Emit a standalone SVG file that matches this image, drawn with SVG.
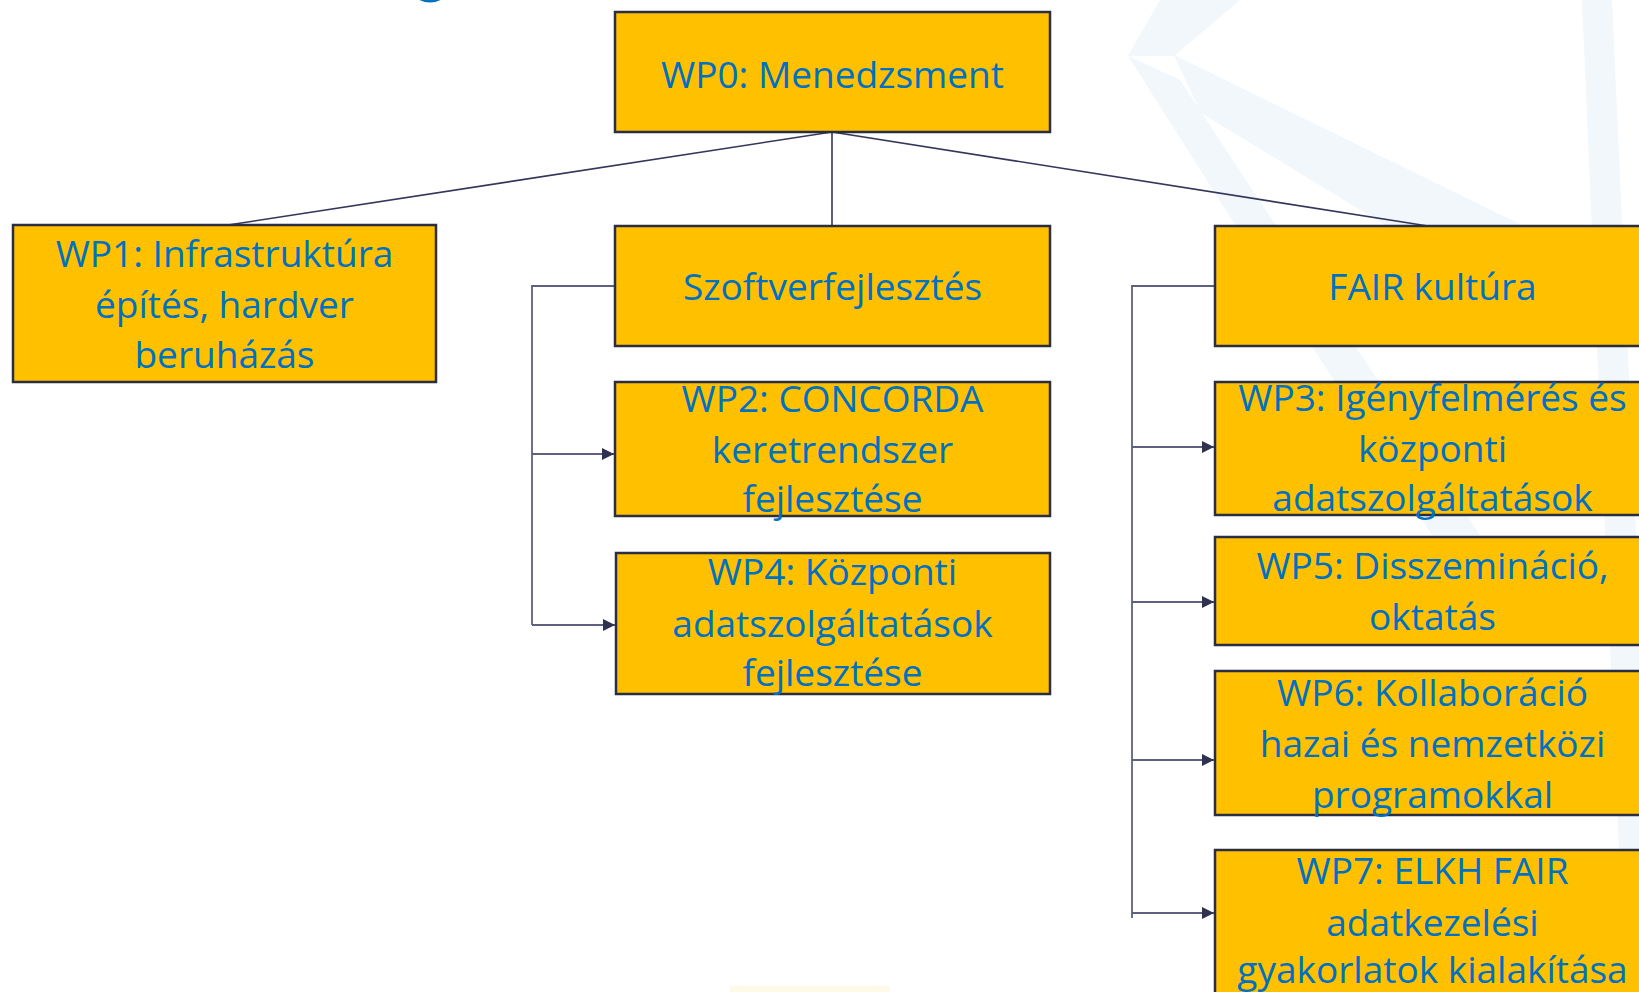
<svg xmlns="http://www.w3.org/2000/svg" width="1639" height="992" viewBox="0 0 1639 992">
<defs>
<style>
.box{fill:#FFC000;stroke:#2B2D42;stroke-width:2.5}
.t{font-family:"Open Sans","Noto Sans",sans-serif;font-size:37px;fill:#0070C0;text-anchor:middle}
.ln{fill:none;stroke:#34365A;stroke-width:1.6}
.br{fill:none;stroke:#5E6080;stroke-width:1.8}
.wm{fill:#F1F7FB}
</style>
<marker id="ah" markerUnits="userSpaceOnUse" markerWidth="14" markerHeight="14" refX="12" refY="6" orient="auto">
<path d="M0,0 L12,6 L0,12 Z" fill="#2F3150"/>
</marker>
</defs>
<rect width="1639" height="992" fill="#FFFFFF"/>
<g id="background">
<polygon class="wm" points="1160,0 1240,0 1174,56 1128,56"/>
<polygon class="wm" points="1128,56 1180,80 1480,535 1432,535"/>
<polygon class="wm" points="1174,55 1579,253 1508,300 1201,113"/>
<polygon class="wm" points="1582,0 1612,0 1639,600 1639,992 1625,992"/>
<ellipse cx="430" cy="-6" rx="13" ry="7" fill="none" stroke="#0070C0" stroke-width="3"/>
<rect x="730" y="986" width="160" height="6" fill="#FFF6D0" opacity="0.5"/>
</g>
<g id="connectors">
<line class="ln" x1="832" y1="132" x2="228" y2="225"/>
<line class="ln" x1="832" y1="132" x2="832" y2="226"/>
<line class="ln" x1="832" y1="132" x2="1428" y2="226"/>
<polyline class="br" points="615,286 532,286 532,625"/>
<line class="br" x1="532" y1="454" x2="614" y2="454" marker-end="url(#ah)"/>
<line class="br" x1="532" y1="625" x2="615" y2="625" marker-end="url(#ah)"/>
<polyline class="br" points="1215,286 1132,286 1132,918"/>
<line class="br" x1="1132" y1="447" x2="1214" y2="447" marker-end="url(#ah)"/>
<line class="br" x1="1132" y1="602" x2="1214" y2="602" marker-end="url(#ah)"/>
<line class="br" x1="1132" y1="760" x2="1214" y2="760" marker-end="url(#ah)"/>
<line class="br" x1="1132" y1="913" x2="1214" y2="913" marker-end="url(#ah)"/>
</g>
<g id="wp0">
<rect class="box" x="615" y="12" width="435" height="120"/>
<text class="t" x="832.5" y="88">WP0: Menedzsment</text>
</g>
<g id="wp1">
<rect class="box" x="13" y="225" width="423" height="157"/>
<text class="t" x="224.5" y="267">WP1: Infrastruktúra</text>
<text class="t" x="224.5" y="318">építés, hardver</text>
<text class="t" x="224.5" y="368">beruházás</text>
</g>
<g id="szoftver">
<rect class="box" x="615" y="226" width="435" height="120"/>
<text class="t" x="832.5" y="300">Szoftverfejlesztés</text>
</g>
<g id="wp2">
<rect class="box" x="615" y="382" width="435" height="134"/>
<text class="t" x="832.5" y="412">WP2: CONCORDA</text>
<text class="t" x="832.5" y="463">keretrendszer</text>
<text class="t" x="832.5" y="512">fejlesztése</text>
</g>
<g id="wp4">
<rect class="box" x="616" y="553" width="434" height="141"/>
<text class="t" x="832.5" y="585">WP4: Központi</text>
<text class="t" x="832.5" y="637">adatszolgáltatások</text>
<text class="t" x="832.5" y="686">fejlesztése</text>
</g>
<g id="fair">
<rect class="box" x="1215" y="226" width="435" height="120"/>
<text class="t" x="1432.5" y="300">FAIR kultúra</text>
</g>
<g id="wp3">
<rect class="box" x="1215" y="382" width="435" height="133"/>
<text class="t" x="1432.5" y="411">WP3: Igényfelmérés és</text>
<text class="t" x="1432.5" y="462">központi</text>
<text class="t" x="1432.5" y="511">adatszolgáltatások</text>
</g>
<g id="wp5">
<rect class="box" x="1215" y="537" width="435" height="108"/>
<text class="t" x="1432.5" y="579">WP5: Disszemináció,</text>
<text class="t" x="1432.5" y="630">oktatás</text>
</g>
<g id="wp6">
<rect class="box" x="1215" y="671" width="435" height="144"/>
<text class="t" x="1432.5" y="706">WP6: Kollaboráció</text>
<text class="t" x="1432.5" y="757">hazai és nemzetközi</text>
<text class="t" x="1432.5" y="808">programokkal</text>
</g>
<g id="wp7">
<rect class="box" x="1215" y="850" width="435" height="160"/>
<text class="t" x="1432.5" y="884">WP7: ELKH FAIR</text>
<text class="t" x="1432.5" y="936">adatkezelési</text>
<text class="t" x="1432.5" y="983">gyakorlatok kialakítása</text>
</g>
</svg>
